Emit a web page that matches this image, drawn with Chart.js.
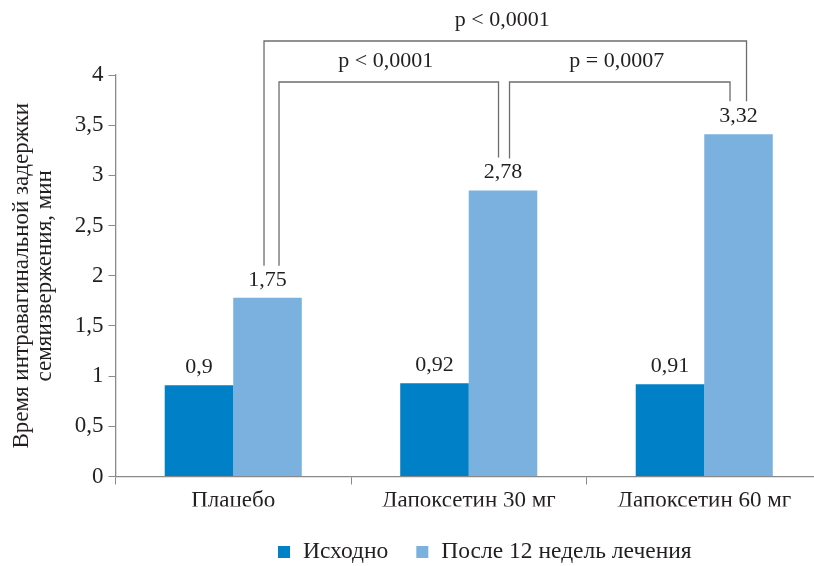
<!DOCTYPE html>
<html>
<head>
<meta charset="utf-8">
<style>
  html, body { margin: 0; padding: 0; overflow: hidden; background: #fff; }
  #wrap { width: 822px; height: 566px; }
</style>
<script src="https://cdn.jsdelivr.net/npm/chart.js@4/dist/chart.umd.min.js"></script>
</head>
<body>
<div id="wrap"><canvas id="grafico" width="822" height="566"></canvas></div>
<script>
// dati
const categories = ['Плацебо', 'Дапоксетин 30 мг', 'Дапоксетин 60 мг'];
const seriesNames = ['Исходно', 'После 12 недель лечения'];
const baseline = [0.91, 0.93, 0.92];
const after12 = [1.78, 2.85, 3.41];
const baselineLabels = ['0,9', '0,92', '0,91'];
const after12Labels = ['1,75', '2,78', '3,32'];
const yTicks = [0, 0.5, 1, 1.5, 2, 2.5, 3, 3.5, 4];
const yTitle = ['Время интравагинальной задержки', 'семяизвержения, мин'];
// confronti: indice categoria da / a, testo
const comparisons = [
  { from: 0, to: 2, text: 'p < 0,0001' },
  { from: 0, to: 1, text: 'p < 0,0001' },
  { from: 1, to: 2, text: 'p = 0,0007' }
];

// stile
const FONT = '"Liberation Serif", "Times New Roman", serif';
const TXT = '#231f20';
const DARK = '#0080c6';
const LIGHT = '#7ab1df';
const bracketStyle = [
  { dxFrom: -3.5, dxTo: 8, top: 41 },
  { dxFrom: 11.5, dxTo: -4.5, top: 82 },
  { dxFrom: 6.5, dxTo: -8.5, top: 82 }
];

const ctx = document.getElementById('grafico').getContext('2d');

const barLabels = {
  id: 'barLabels',
  afterDatasetsDraw(chart) {
    const c = chart.ctx;
    const texts = [baselineLabels, after12Labels];
    c.save();
    c.font = '22px ' + FONT;
    c.fillStyle = TXT;
    c.textAlign = 'center';
    c.textBaseline = 'middle';
    chart.data.datasets.forEach((ds, i) => {
      chart.getDatasetMeta(i).data.forEach((el, j) => {
        c.fillText(texts[i][j], el.x, el.y - 18);
      });
    });
    c.restore();
  }
};

const brackets = {
  id: 'brackets',
  afterDraw(chart) {
    const c = chart.ctx;
    const bars = chart.getDatasetMeta(1).data;
    c.save();
    c.strokeStyle = '#6d6d6d';
    c.lineWidth = 1.3;
    c.font = '22px ' + FONT;
    c.fillStyle = TXT;
    c.textAlign = 'center';
    c.textBaseline = 'middle';
    comparisons.forEach((cmp, k) => {
      const st = bracketStyle[k];
      const a = bars[cmp.from], b = bars[cmp.to];
      const x1 = a.x + st.dxFrom, x2 = b.x + st.dxTo;
      c.beginPath();
      c.moveTo(x1, a.y - 32);
      c.lineTo(x1, st.top);
      c.lineTo(x2, st.top);
      c.lineTo(x2, b.y - 33);
      c.stroke();
      c.fillText(cmp.text, (x1 + x2) / 2 - 3, st.top - 21);
    });
    c.restore();
  }
};

const bottomLegend = {
  id: 'bottomLegend',
  afterDraw(chart) {
    const c = chart.ctx;
    const colors = [DARK, LIGHT];
    let x = 278;
    const y = 552;
    c.save();
    c.font = '23.5px ' + FONT;
    c.textBaseline = 'middle';
    seriesNames.forEach((name, i) => {
      c.fillStyle = colors[i];
      c.fillRect(x, y - 6, 12, 12);
      c.fillStyle = TXT;
      c.fillText(name, x + 25, y);
      x += 25 + c.measureText(name).width + 28;
    });
    c.restore();
  }
};

new Chart(ctx, {
  type: 'bar',
  data: {
    labels: categories,
    datasets: [
      { label: seriesNames[0], data: baseline, backgroundColor: DARK },
      { label: seriesNames[1], data: after12, backgroundColor: LIGHT }
    ]
  },
  options: {
    responsive: false,
    animation: false,
    layout: { padding: { top: 75, left: 0, right: 0, bottom: 59.5 } },
    datasets: { bar: { barPercentage: 1, categoryPercentage: 0.582 } },
    plugins: {
      legend: { display: false },
      tooltip: { enabled: false }
    },
    scales: {
      x: {
        afterFit: s => { s.height = 30; },
        grid: { offset: true, drawOnChartArea: false, color: '#8a8a8a', tickLength: 8 },
        border: { color: '#8a8a8a', width: 1.3 },
        ticks: { color: TXT, font: { family: FONT, size: 23 }, padding: 3 }
      },
      y: {
        min: 0,
        max: 4,
        afterFit: s => { s.width = 115.5; },
        afterBuildTicks: s => { s.ticks = yTicks.map(v => ({ value: v })); },
        grid: { drawOnChartArea: false, color: '#8a8a8a', tickLength: 7 },
        border: { color: '#8a8a8a', width: 1.3 },
        ticks: {
          color: TXT,
          font: { family: FONT, size: 23 },
          padding: 5,
          callback: v => String(v).replace('.', ',')
        },
        title: {
          display: true,
          text: yTitle,
          color: TXT,
          font: { family: FONT, size: 23, lineHeight: 1 },
          padding: { top: 10.5, bottom: 0 }
        }
      }
    }
  },
  plugins: [barLabels, brackets, bottomLegend]
});
</script>
</body>
</html>
